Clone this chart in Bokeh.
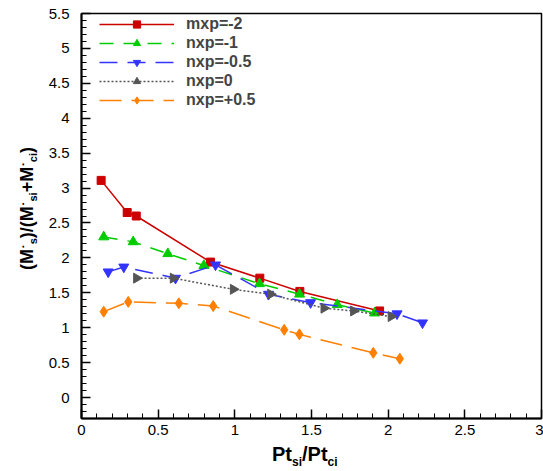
import math
from bokeh.plotting import figure
from bokeh.models import Range1d, FixedTicker, Legend, LegendItem, Div
from bokeh.layouts import column, row
from bokeh.embed import file_html
from bokeh.resources import INLINE

# ---- data ----
red_x = [0.128, 0.298, 0.357, 0.841, 1.163, 1.424, 1.944]
red_y = [3.11, 2.65, 2.60, 1.94, 1.71, 1.52, 1.24]

green_x = [0.145, 0.337, 0.563, 0.798, 1.161, 1.422, 1.668, 1.911]
green_y = [2.30, 2.23, 2.06, 1.89, 1.63, 1.48, 1.33, 1.21]

blue_x = [0.174, 0.276, 0.613, 0.874, 1.22, 1.494, 2.058, 2.224]
blue_y = [1.80, 1.87, 1.71, 1.90, 1.48, 1.36, 1.20, 1.07]

gray_x = [0.359, 0.598, 0.990, 1.233, 1.581, 1.774, 2.019]
gray_y = [1.71, 1.71, 1.55, 1.48, 1.28, 1.24, 1.16]

orange_x = [0.145, 0.305, 0.635, 0.859, 1.322, 1.421, 1.903, 2.076]
orange_y = [1.23, 1.37, 1.35, 1.31, 0.97, 0.905, 0.64, 0.556]

series_names = ["mxp=-2", "nxp=-1", "nxp=-0.5", "nxp=0", "nxp=+0.5"]

x_ticks = [0, 0.5, 1, 1.5, 2, 2.5, 3]
x_tick_labels = ["0", "0.5", "1", "1.5", "2", "2.5", "3"]
y_ticks = [0, 0.5, 1, 1.5, 2, 2.5, 3, 3.5, 4, 4.5, 5, 5.5]
y_tick_labels = ["0", "0.5", "1", "1.5", "2", "2.5", "3", "3.5", "4", "4.5", "5", "5.5"]

FONT = "Liberation Sans"
X0, X1 = 0.0, 3.0
Y0, Y1 = -0.3, 5.5

YLAB_W = 40      # width of the y-label strip
XLAB_H = 28      # height of the x-label strip
PLOT_W = 543 - YLAB_W
PLOT_H = 471 - XLAB_H

p = figure(width=PLOT_W, height=PLOT_H, output_backend="svg",
           toolbar_location=None,
           x_range=Range1d(X0, X1), y_range=Range1d(Y0, Y1),
           min_border_left=81 - YLAB_W, min_border_right=2, min_border_top=13,
           min_border_bottom=PLOT_H - 418)
p.grid.visible = False
p.outline_line_color = "black"
p.outline_line_width = 1.5
p.background_fill_color = "white"

xminor = [round(i * 0.1, 2) for i in range(0, 31)]
yminor = [round(-0.3 + i * 0.1, 2) for i in range(0, 59)]
p.xaxis.ticker = FixedTicker(ticks=x_ticks, minor_ticks=xminor)
p.yaxis.ticker = FixedTicker(ticks=y_ticks, minor_ticks=yminor)
p.xaxis.major_label_overrides = {t: l for t, l in zip(x_ticks, x_tick_labels)}
p.yaxis.major_label_overrides = {t: l for t, l in zip(y_ticks, y_tick_labels)}
for ax in (p.xaxis, p.yaxis):
    ax.axis_line_width = 2
    ax.axis_line_color = "black"
    ax.major_tick_in = 9
    ax.major_tick_out = 0
    ax.minor_tick_in = 5
    ax.minor_tick_out = 0
    ax.major_tick_line_width = 1.5
    ax.major_tick_line_color = "black"
    ax.minor_tick_line_color = "black"
    ax.major_label_text_font = FONT
    ax.major_label_text_font_size = "15px"
    ax.major_label_text_color = "black"
p.xaxis.major_label_standoff = 6
p.yaxis.major_label_standoff = 12

styles = [
    (red_x, red_y, "#cc0000", "solid", "square", 8, 0.0),
    (green_x, green_y, "#00cc00", "14 10", "triangle", 10, 0.0),
    (blue_x, blue_y, "#3333ff", "18 10", "inverted_triangle", 10, 0.0),
    (gray_x, gray_y, "#555555", "2 2", "triangle", 10, -math.pi / 2),
    (orange_x, orange_y, "#ff8000", "22 10", "diamond", 11, 0.0),
]
items = []
for (xs, ys, c, dash, mk, sz, ang), name in zip(styles, series_names):
    lr = p.line(xs, ys, line_color=c, line_width=1.5, line_dash=dash)
    sr = p.scatter(xs, ys, marker=mk, size=sz, angle=ang, fill_color=c,
                   line_color=c)
    items.append(LegendItem(label=name, renderers=[lr, sr]))

legend = Legend(items=items, location=(18, 309), orientation="vertical")
legend.border_line_color = None
legend.background_fill_alpha = 0
legend.glyph_width = 75
legend.glyph_height = 18
legend.label_height = 18
legend.spacing = 1
legend.padding = 3
legend.margin = 0
legend.label_standoff = 12
legend.label_text_font = FONT
legend.label_text_font_style = "bold"
legend.label_text_font_size = "16px"
p.add_layout(legend)

# ---- axis titles with sub/superscripts as HTML text ----
FONT_CSS = "font-family:'Liberation Sans',Arial,sans-serif;font-weight:bold;color:black;white-space:nowrap;line-height:1;"
SUBX = "font-size:12px;vertical-align:-5px;line-height:0;"
x_html = (
    f'<div style="position:relative;width:543px;height:{XLAB_H}px;">'
    f'<div style="position:absolute;left:272px;top:1px;{FONT_CSS}font-size:20px;">'
    f'Pt<sub style="{SUBX}">si</sub>/Pt<sub style="{SUBX}">ci</sub>'
    '</div></div>'
)
SUBY = "font-size:11px;vertical-align:-4px;line-height:0;"
DOT = '<span style="font-size:14px;">\u02d9</span>'
y_html = (
    f'<div style="position:relative;width:{YLAB_W}px;height:{PLOT_H}px;">'
    f'<div style="position:absolute;left:18px;top:270px;transform:rotate(-90deg);'
    f'transform-origin:0 0;{FONT_CSS}font-size:18px;">'
    f'(M{DOT}<sub style="{SUBY}">s</sub>)/(M{DOT}<sub style="{SUBY}">si</sub>'
    f'+M{DOT}<sub style="{SUBY}">ci</sub>)'
    '</div></div>'
)
ydiv = Div(text=y_html, width=YLAB_W, height=PLOT_H, margin=0,
           styles={"overflow": "visible"})
xdiv = Div(text=x_html, width=543, height=XLAB_H, margin=0,
           styles={"overflow": "visible"})

layout = column(row(ydiv, p, spacing=0), xdiv, spacing=0)

open("out.html", "w").write(file_html(layout, INLINE))
